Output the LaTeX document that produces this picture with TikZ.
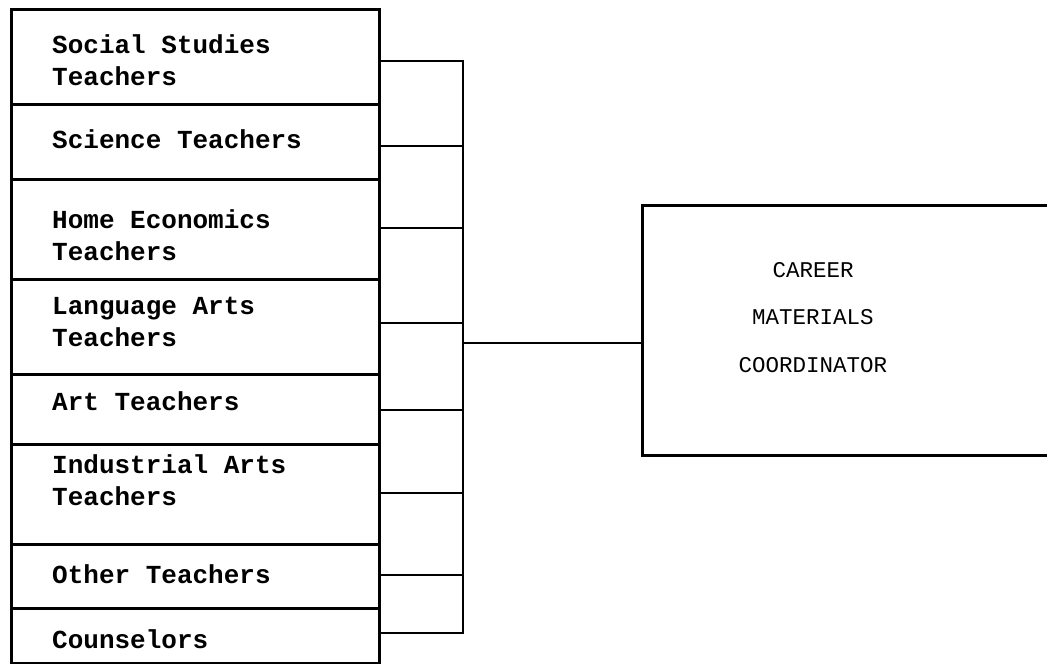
\documentclass[tikz,border=0pt]{standalone}
\usepackage{fontspec}
\setmonofont{Liberation Mono}
\begin{document}
\begin{tikzpicture}[x=1pt,y=-1pt,
  rowbox/.style={draw,line width=2.6pt,minimum width=368pt,anchor=north west,inner sep=0pt},
  txt/.style={anchor=base west,align=left,inner sep=0pt,font=\ttfamily\bfseries\fontsize{26}{32}\selectfont},
  ctxt/.style={align=center,inner sep=0pt,font=\ttfamily\fontsize{22.5}{47.5}\selectfont},
  conn/.style={line width=2.6pt}]
\useasboundingbox (0,0) rectangle (1047,664);
\clip (0,0) rectangle (1047,664);
\fill[white] (0,0) rectangle (1047,664);
% rows
\node[rowbox,minimum height=95pt] (r1) at (10,8) {};
\node[rowbox,minimum height=75pt] (r2) at (10,103) {};
\node[rowbox,minimum height=100pt] (r3) at (10,178) {};
\node[rowbox,minimum height=95pt] (r4) at (10,278) {};
\node[rowbox,minimum height=70pt] (r5) at (10,373) {};
\node[rowbox,minimum height=100pt] (r6) at (10,443) {};
\node[rowbox,minimum height=64pt] (r7) at (10,543) {};
\node[rowbox,minimum height=55pt] (r8) at (10,607) {};
% texts (anchor = baseline of last line)
\node[txt] (t1) at (52,85) {Social Studies\\Teachers};
\node[txt] (t2) at (52,148) {Science Teachers};
\node[txt] (t3) at (52,260) {Home Economics\\Teachers};
\node[txt] (t4) at (52,346) {Language Arts\\Teachers};
\node[txt] (t5) at (52,410) {Art Teachers};
\node[txt] (t6) at (52,505) {Industrial Arts\\Teachers};
\node[txt] (t7) at (52,583) {Other Teachers};
\node[txt] (t8) at (52,648) {Counselors};
% coordinator
\node[draw,line width=2.6pt,anchor=north west,minimum width=440pt,minimum height=250pt,inner sep=0pt] (cm) at (641,204) {};
\node[ctxt,anchor=base] (ct) at (813,372) {CAREER\\MATERIALS\\COORDINATOR};
% bus
\coordinate (b1) at (463,61);
\coordinate (b2) at (463,146);
\coordinate (b3) at (463,228);
\coordinate (b4) at (463,323);
\coordinate (b5) at (463,410);
\coordinate (b6) at (463,493);
\coordinate (b7) at (463,575);
\coordinate (b8) at (463,633);
\coordinate (j) at (463,343);
\foreach \i in {1,...,8}{\draw[conn] (b\i -| r\i.east) -- (b\i);}
\draw[conn,line cap=rect] (b1) -- (b8);
\draw[conn] (j) -- (j -| cm.west);
\end{tikzpicture}
\end{document}
